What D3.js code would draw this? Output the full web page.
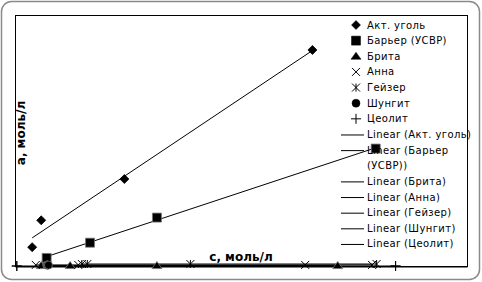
<!DOCTYPE html>
<html>
<head>
<meta charset="utf-8">
<script src="https://cdn.jsdelivr.net/npm/d3@7"></script>
<style>
body { margin: 0; background: #fff; }
text { font-family: "DejaVu Sans", sans-serif; }
</style>
</head>
<body>
<div id="rys"></div>
<script>
// series names and marker kinds, in legend order
var names = ["Акт. уголь", "Барьер (УСВР)", "Брита", "Анна", "Гейзер", "Шунгит", "Цеолит"];
var shapes = ["diamond", "square", "triangle", "x", "star", "circle", "plus"];

// c, моль/л  (x)   and  a, моль/л (y)
var aktX = [1.9, 2.9, 12.1, 32.9];
var aktY = [2.1, 5.1, 9.7, 24.1];
var barX = [3.5, 8.3, 15.7, 39.9];
var barY = [0.9, 2.6, 5.4, 13.1];
var britaX = [2.9, 6.1, 15.7, 35.7];
var britaY = [0.05, 0.05, 0.05, 0.05];
var annaX = [2.3, 7.0, 32.1, 39.5];
var annaY = [0.12, 0.12, 0.12, 0.12];
var geyzerX = [7.4, 8.0, 19.4, 40.0];
var geyzerY = [0.22, 0.22, 0.22, 0.22];
var shungitX = [3.5, 3.6, 3.6, 3.7];
var shungitY = [0.1, 0.1, 0.1, 0.1];
var ceolitX = [0.2, 0.2, 42.1, 42.1];
var ceolitY = [0.0, 0.0, 0.0, 0.0];

var xTitle = "с, моль/л";
var yTitle = "а, моль/л";

var xsAll = [aktX, barX, britaX, annaX, geyzerX, shungitX, ceolitX];
var ysAll = [aktY, barY, britaY, annaY, geyzerY, shungitY, ceolitY];

var series = names.map(function (n, i) {
  return {
    name: n,
    shape: shapes[i],
    pts: xsAll[i].map(function (x, j) { return { x: x, y: ysAll[i][j] }; })
  };
});

var W = 482, H = 282;
var margin = { top: 15, left: 15, right: 15, bottom: 16 };
var width = W - margin.left - margin.right;
var height = H - margin.top - margin.bottom;

var svgRoot = d3.select("#rys").append("svg")
  .attr("width", W)
  .attr("height", H);

svgRoot.append("rect")
  .attr("x", 1.5).attr("y", 1.5)
  .attr("width", W - 4).attr("height", H - 4)
  .attr("rx", 10).attr("ry", 10)
  .attr("fill", "white")
  .attr("stroke", "#8a8a8a")
  .attr("stroke-width", 1.5);

var svg = svgRoot.append("g")
  .attr("transform", "translate(" + margin.left + "," + margin.top + ")");

var xscale = d3.scaleLinear().domain([0, 50]).range([0, width]);
var yscale = d3.scaleLinear().domain([0, 28]).range([height, 0]);

// plot area frame
svg.append("rect")
  .attr("x", 0.5).attr("y", 0.5)
  .attr("width", width).attr("height", height)
  .attr("fill", "none")
  .attr("stroke", "black")
  .attr("stroke-width", 1);

// axis without ticks along the bottom
svg.append("g")
  .attr("transform", "translate(0," + (height + 0.5) + ")")
  .call(d3.axisBottom(xscale).tickValues([]).tickSizeOuter(0))
  .select(".domain").attr("stroke", "black");

// symbol path generator (size in px)
function markPath(shape, s) {
  var h = s / 2;
  if (shape == "diamond") return "M0," + (-h) + "L" + h + ",0L0," + h + "L" + (-h) + ",0Z";
  if (shape == "square") return "M" + (-h) + "," + (-h) + "h" + s + "v" + s + "h" + (-s) + "Z";
  if (shape == "triangle") return "M0," + (-h) + "L" + (h + 1) + "," + (h - 1) + "L" + (-h - 1) + "," + (h - 1) + "Z";
  if (shape == "circle") return d3.symbol(d3.symbolCircle, Math.PI * h * h)();
  if (shape == "x") return "M" + (-h) + "," + (-h) + "L" + h + "," + h + "M" + (-h) + "," + h + "L" + h + "," + (-h);
  if (shape == "star") return "M" + (-h) + "," + (-h) + "L" + h + "," + h + "M" + (-h) + "," + h + "L" + h + "," + (-h) + "M0," + (-h) + "V" + h;
  if (shape == "plus") return "M" + (-h - 1) + ",0H" + (h + 1) + "M0," + (-h - 1) + "V" + (h + 1);
}
var filled = { diamond: true, square: true, triangle: true, circle: true };
var markSize = { diamond: 9, square: 9, triangle: 8, circle: 8, x: 8, star: 8, plus: 8 };

// legend
var legend = svgRoot.append("g").attr("class", "legend");
var rowY = d3.range(15).map(function (i) { return 25 + i * 15.64; });

series.forEach(function (s, i) {
  legend.append("path")
    .attr("d", markPath(s.shape, markSize[s.shape]))
    .attr("transform", "translate(356," + rowY[i] + ")")
    .attr("fill", filled[s.shape] ? "black" : "none")
    .attr("stroke", "black")
    .attr("stroke-width", filled[s.shape] ? 0.5 : 1);
  legend.append("text")
    .attr("x", 367).attr("y", rowY[i])
    .attr("dy", "0.35em")
    .style("font-size", "10px")
    .style("letter-spacing", "0.4px")
    .text(s.name);
});

var r = 7;
series.forEach(function (s, i) {
  var lines;
  if (s.name == "Барьер (УСВР)") lines = ["Linear (Барьер", "(УСВР))"];
  else lines = ["Linear (" + s.name + ")"];
  legend.append("line")
    .attr("x1", 341).attr("x2", 364)
    .attr("y1", rowY[r] + 0.5).attr("y2", rowY[r] + 0.5)
    .attr("stroke", "black");
  lines.forEach(function (t, k) {
    legend.append("text")
      .attr("x", 367).attr("y", rowY[r + k])
      .attr("dy", "0.35em")
      .style("font-size", "10px")
      .style("letter-spacing", "0.4px")
      .text(t);
  });
  r += lines.length;
});

// linear trend lines (least squares, drawn over the data range)
function fit(pts) {
  var mx = d3.mean(pts, d => d.x), my = d3.mean(pts, d => d.y);
  var sxy = d3.sum(pts, d => (d.x - mx) * (d.y - my));
  var sxx = d3.sum(pts, d => (d.x - mx) * (d.x - mx));
  var b = sxx == 0 ? 0 : sxy / sxx;
  return { b: b, a: my - b * mx };
}

var trends = svg.append("g");
series.forEach(function (s) {
  var f = fit(s.pts);
  var ext = d3.extent(s.pts, d => d.x);
  trends.append("line")
    .attr("x1", xscale(ext[0])).attr("x2", xscale(ext[1]))
    .attr("y1", yscale(f.a + f.b * ext[0])).attr("y2", yscale(f.a + f.b * ext[1]))
    .attr("stroke", "black")
    .attr("stroke-width", 1);
});

// axis titles
svg.append("text")
  .attr("x", width / 2).attr("y", height - 5)
  .attr("text-anchor", "middle")
  .style("font-size", "12px")
  .style("font-weight", "bold")
  .text(xTitle);

svg.append("text")
  .attr("transform", "translate(10,118)rotate(-90)")
  .attr("text-anchor", "middle")
  .style("font-size", "12px")
  .style("font-weight", "bold")
  .text(yTitle);

// markers
series.forEach(function (s) {
  svg.selectAll("path.m" + s.shape)
    .data(s.pts)
    .enter().append("path")
    .attr("class", "m" + s.shape)
    .attr("d", markPath(s.shape, markSize[s.shape]))
    .attr("transform", d => "translate(" + xscale(d.x) + "," + yscale(d.y) + ")")
    .attr("fill", filled[s.shape] ? "black" : "none")
    .attr("stroke", filled[s.shape] && s.shape != "diamond" ? "#777" : "black")
    .attr("stroke-width", filled[s.shape] ? 0.8 : 1);
});
</script>
</body>
</html>
